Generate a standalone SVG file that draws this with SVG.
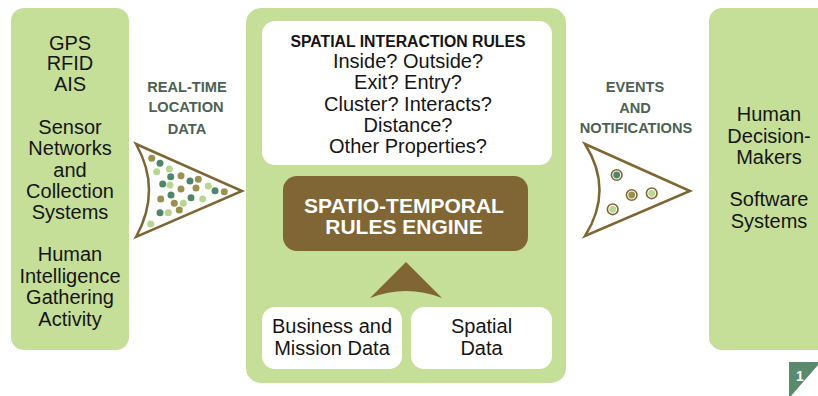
<svg xmlns="http://www.w3.org/2000/svg" width="818" height="396" viewBox="0 0 818 396">
<style>
.panel{fill:#c6df98}
.white{fill:#ffffff}
.txt{font-family:"Liberation Sans",Arial,sans-serif;font-size:20px;fill:#151515;text-anchor:middle}
.hd{font-family:"Liberation Sans",Arial,sans-serif;font-weight:bold;text-anchor:middle}
.lbl{font-family:"Liberation Sans",Arial,sans-serif;font-weight:bold;font-size:14.6px;fill:#4c6152;text-anchor:middle}
.funnel{fill:#ffffff;stroke:#7d6534;stroke-width:2.5;stroke-linejoin:miter}
.t{fill:#4f8568}.o{fill:#9a9050}.l{fill:#b8d591}
.ring{fill:#ffffff;stroke:#7d6534;stroke-width:1.6}
</style>
<rect width="818" height="396" fill="#ffffff"/>

<g id="sources">
<rect class="panel" x="11" y="8" width="118" height="342" rx="13"/>
<text class="txt" x="70" y="50">GPS</text>
<text class="txt" x="70" y="70">RFID</text>
<text class="txt" x="70" y="91">AIS</text>
<text class="txt" x="70" y="134">Sensor</text>
<text class="txt" x="70" y="155">Networks</text>
<text class="txt" x="70" y="176.5">and</text>
<text class="txt" x="70" y="198">Collection</text>
<text class="txt" x="70" y="219">Systems</text>
<text class="txt" x="70" y="261">Human</text>
<text class="txt" x="70" y="282.5">Intelligence</text>
<text class="txt" x="70" y="304">Gathering</text>
<text class="txt" x="70" y="325.5">Activity</text>
</g>

<g id="engine-panel">
<rect class="panel" x="246" y="8" width="320" height="375" rx="15"/>
</g>

<g id="rules">
<rect class="white" x="262" y="21" width="290" height="144" rx="13"/>
<text class="hd" x="408" y="47" font-size="15.8" fill="#151515">SPATIAL INTERACTION RULES</text>
<text class="txt" x="408" y="68">Inside? Outside?</text>
<text class="txt" x="408" y="89">Exit? Entry?</text>
<text class="txt" x="408" y="111">Cluster? Interacts?</text>
<text class="txt" x="408" y="132">Distance?</text>
<text class="txt" x="408" y="153">Other Properties?</text>
</g>

<g id="engine">
<rect x="283" y="176" width="245" height="75" rx="14" fill="#7f6634"/>
<text class="hd" x="404" y="213" font-size="21" fill="#ffffff">SPATIO-TEMPORAL</text>
<text class="hd" x="404" y="234" font-size="21" fill="#ffffff">RULES ENGINE</text>
</g>

<g id="business">
<rect class="white" x="262" y="307" width="140" height="62" rx="13"/>
<text class="txt" x="332" y="333">Business and</text>
<text class="txt" x="332" y="355">Mission Data</text>
</g>

<g id="spatial">
<rect class="white" x="411" y="307" width="141" height="62" rx="13"/>
<text class="txt" x="481.5" y="333">Spatial</text>
<text class="txt" x="481.5" y="355">Data</text>
</g>

<g id="consumers">
<rect class="panel" x="709" y="8" width="130" height="342" rx="13"/>
<text class="txt" x="769" y="121">Human</text>
<text class="txt" x="769" y="143">Decision-</text>
<text class="txt" x="769" y="164">Makers</text>
<text class="txt" x="769" y="206">Software</text>
<text class="txt" x="769" y="228">Systems</text>
</g>

<g id="connectors">
<g id="in-arrow">
<path class="funnel" d="M136,144 L242,191 L136,237 Q162,190 136,144 Z"/>
<circle class="o" cx="151.7" cy="158.3" r="3.5"/>
<circle class="t" cx="160" cy="163.3" r="3.5"/>
<circle class="l" cx="156.7" cy="171.7" r="3.5"/>
<circle class="l" cx="169.3" cy="169" r="3.5"/>
<circle class="t" cx="170.7" cy="176.7" r="3.5"/>
<circle class="o" cx="181" cy="175.7" r="3.5"/>
<circle class="t" cx="162.7" cy="184" r="3.5"/>
<circle class="l" cx="170" cy="185" r="3.5"/>
<circle class="t" cx="190" cy="181" r="3.5"/>
<circle class="o" cx="198.3" cy="179.3" r="3.5"/>
<circle class="o" cx="181" cy="189" r="3.5"/>
<circle class="o" cx="196" cy="188" r="3.5"/>
<circle class="l" cx="208.3" cy="186" r="3.5"/>
<circle class="t" cx="215" cy="190.7" r="3.5"/>
<circle class="o" cx="224.3" cy="191.7" r="3.5"/>
<circle class="o" cx="160.7" cy="199" r="3.5"/>
<circle class="t" cx="171" cy="195" r="3.5"/>
<circle class="o" cx="174.3" cy="203.3" r="3.5"/>
<circle class="l" cx="183.3" cy="203.3" r="3.5"/>
<circle class="t" cx="191" cy="197.7" r="3.5"/>
<circle class="l" cx="202.7" cy="199" r="3.5"/>
<circle class="t" cx="160" cy="212.7" r="3.5"/>
<circle class="l" cx="168.3" cy="212.7" r="3.5"/>
<circle class="o" cx="179.3" cy="210" r="3.5"/>
<circle class="l" cx="150.7" cy="224" r="3.5"/>
</g>
<text class="lbl" x="187" y="92">REAL-TIME</text>
<text class="lbl" x="186" y="112">LOCATION</text>
<text class="lbl" x="187" y="134">DATA</text>

<path id="up-arrow" d="M406,262 L442,298 Q406,284 370,298 Z" fill="#7f6634"/>

<g id="out-arrow">
<path class="funnel" d="M585,144 L690,191 L585,236 Q614,190 585,144 Z"/>
<circle class="ring" cx="616.7" cy="175" r="5.3"/><circle class="t" cx="616.7" cy="175" r="3.4"/>
<circle class="ring" cx="631.7" cy="195" r="5.3"/><circle class="o" cx="631.7" cy="195" r="3.4"/>
<circle class="ring" cx="651.7" cy="193.3" r="5.3"/><circle class="l" cx="651.7" cy="193.3" r="3.4"/>
<circle class="ring" cx="612.7" cy="209.3" r="5.3"/><circle class="l" cx="612.7" cy="209.3" r="3.4"/>
</g>
<text class="lbl" x="635" y="92">EVENTS</text>
<text class="lbl" x="635" y="113">AND</text>
<text class="lbl" x="636" y="133">NOTIFICATIONS</text>
</g>

<g id="page-tag">
<path d="M789,362 L818,362 L818,365 L791,396 L789,396 Z" fill="#5a8a6c"/>
<text x="800" y="381" font-family="'Liberation Sans',Arial,sans-serif" font-weight="bold" font-size="14" fill="#ffffff" text-anchor="middle">1</text>
</g>
</svg>
